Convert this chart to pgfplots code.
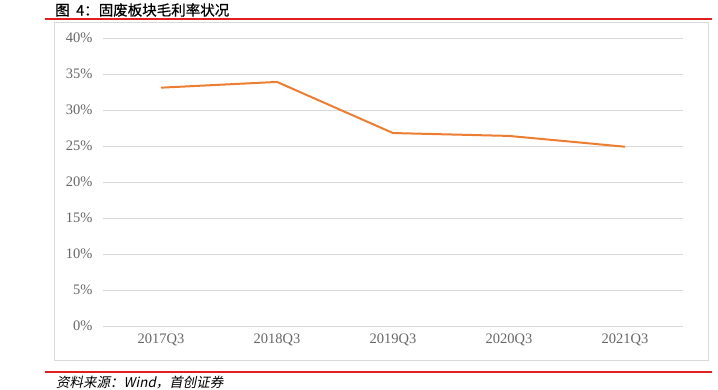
\documentclass[border=0pt]{standalone}
\usepackage{fontspec}
\setmainfont{Liberation Serif}
\newfontfamily\cjk{Noto Sans CJK SC}[FakeBold=0.6]
\newfontfamily\cjkit{Noto Sans CJK SC}[FakeSlant=0.2]
\usepackage{pgfplots}
\pgfplotsset{compat=1.18}
\definecolor{lineorange}{HTML}{ED7D31}
\definecolor{gridgray}{HTML}{D9D9D9}
\definecolor{boxgray}{HTML}{D9D9D9}
\definecolor{labgray}{HTML}{666666}
\definecolor{rulered}{HTML}{E02020}
\begin{document}
\begin{tikzpicture}[x=1pt,y=1pt]
\path[use as bounding box] (0,0) rectangle (718,-390);
\node[anchor=west,inner sep=0pt,font=\cjk\fontsize{14.5}{16}\selectfont] at (55,-10) {图\hspace{0.45em}4：固废板块毛利率状况};
\draw[boxgray,line width=0.8pt] (54,-22) rectangle (708,-360);
\draw[rulered,line width=1.4pt] (45,-19) -- (712,-19);
\draw[rulered,line width=1.4pt] (45,-372) -- (712,-372);
\node[anchor=west,inner sep=0pt,font=\cjkit\fontsize{13.5}{15}\selectfont] at (56,-383) {资料来源：\textit{Wind}，首创证券};
\begin{axis}[
  at={(103pt,-326pt)}, anchor=south west,
  scale only axis, width=580pt, height=288pt,
  xmin=-0.5, xmax=4.5, ymin=0, ymax=40,
  xtick={0,1,2,3,4},
  xticklabels={2017Q3,2018Q3,2019Q3,2020Q3,2021Q3},
  ytick={0,5,10,15,20,25,30,35,40},
  yticklabel={\pgfmathprintnumber{\tick}\%},
  /pgf/number format/assume math mode=true,
  axis line style={draw=none},
  major tick length=0pt,
  ymajorgrids, grid style={gridgray,line width=0.8pt},
  tick label style={labgray,font=\fontsize{14.5}{16}\selectfont},
  yticklabel style={xshift=-7pt},
  xticklabel style={yshift=-4pt},
  clip=false,
]
\addplot[lineorange,line width=2pt,mark=none] coordinates {
(0,33.1) (1,33.9) (2,26.8) (3,26.4) (4,24.9)
};
\end{axis}
\end{tikzpicture}
\end{document}
